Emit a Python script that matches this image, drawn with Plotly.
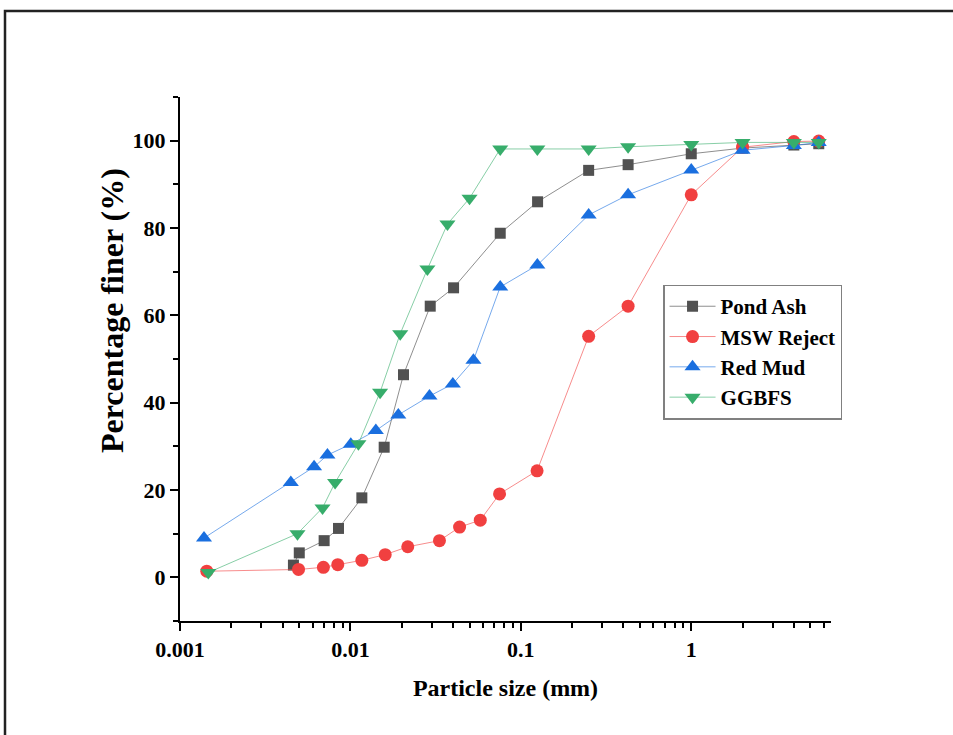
import plotly.graph_objects as go

# ---- data ----
pond_x = [0.00463, 0.00501, 0.00701, 0.00851, 0.01167, 0.01578, 0.02048, 0.0294, 0.0403,
          0.0757, 0.1254, 0.250, 0.426, 1.0, 2.0, 4.0, 5.6]
pond_y = [2.8, 5.6, 8.4, 11.2, 18.2, 29.8, 46.4, 62.1, 66.3,
          78.8, 86.0, 93.2, 94.5, 97.0, 98.3, 99.0, 99.3]

msw_x = [0.001436, 0.00496, 0.00694, 0.00843, 0.01167, 0.0160, 0.0217, 0.0333, 0.0437,
         0.0578, 0.0750, 0.1245, 0.250, 0.426, 1.0, 2.0, 4.0, 5.6]
msw_y = [1.4, 1.8, 2.3, 2.9, 3.9, 5.2, 7.0, 8.4, 11.5,
         13.1, 19.1, 24.4, 55.2, 62.1, 87.6, 98.5, 99.8, 99.9]

rm_x = [0.001383, 0.00447, 0.00612, 0.00733, 0.01005, 0.0141, 0.0191, 0.0291, 0.0399,
        0.0527, 0.0757, 0.125, 0.250, 0.426, 1.0, 2.0, 4.0, 5.6]
rm_y = [9.0, 21.7, 25.3, 28.0, 30.5, 33.6, 37.2, 41.5, 44.3,
        49.7, 66.5, 71.5, 83.0, 87.6, 93.3, 97.8, 98.9, 99.6]

gg_x = [0.001466, 0.00489, 0.00686, 0.00813, 0.01114, 0.01493, 0.0196, 0.0283, 0.0371,
        0.0500, 0.0757, 0.125, 0.250, 0.426, 1.0, 2.0, 4.0, 5.6]
gg_y = [1.1, 10.0, 15.9, 21.7, 30.6, 42.4, 55.8, 70.6, 80.9,
        86.8, 98.1, 98.1, 98.1, 98.6, 99.1, 99.6, 99.6, 99.6]

x_tick_vals = [0.001, 0.01, 0.1, 1]
x_tick_text = ["0.001", "0.01", "0.1", "1"]
series_names = ["Pond Ash", "MSW Reject", "Red Mud", "GGBFS"]
x_title = "Particle size (mm)"
y_title = "Percentage finer (%)"

FONT = "Liberation Serif"

fig = go.Figure()

def add(xs, ys, name, mcolor, lcolor, symbol, size):
    fig.add_trace(go.Scatter(
        x=xs, y=ys, name=name, mode="lines+markers",
        line=dict(color=lcolor, width=1),
        marker=dict(color=mcolor, symbol=symbol, size=size, line=dict(width=0)),
    ))

add(pond_x, pond_y, series_names[0], "#515151", "rgba(81,81,81,0.65)", "square", 11)
add(msw_x, msw_y, series_names[1], "#F14040", "rgba(241,64,64,0.6)", "circle", 13)
add(rm_x, rm_y, series_names[2], "#1A6FDF", "rgba(26,111,223,0.6)", "triangle-up", 14)
add(gg_x, gg_y, series_names[3], "#37AD6B", "rgba(55,173,107,0.6)", "triangle-down", 14)

minor_x = []
for d in [0.001, 0.01, 0.1, 1]:
    for k in range(2, 10):
        minor_x.append(d * k)

fig.update_layout(
    width=953, height=735,
    margin=dict(l=180, r=122, t=97, b=114),
    paper_bgcolor="white", plot_bgcolor="white",
    font=dict(family=FONT, size=22, color="black", weight="bold"),
    showlegend=True,
    legend=dict(
        x=0.742, y=0.642, xanchor="left", yanchor="top",
        bordercolor="#808080", borderwidth=1.5, bgcolor="white",
        font=dict(family=FONT, size=21, color="black", weight="bold"),
        tracegroupgap=0, itemsizing="trace", itemwidth=46,
    ),
    xaxis=dict(
        type="log", range=[-3, 0.82],
        tickmode="array", tickvals=x_tick_vals, ticktext=x_tick_text,
        ticks="outside", ticklen=8, tickwidth=1.5, tickcolor="black",
        showline=True, linecolor="black", linewidth=2,
        showgrid=False, zeroline=False, mirror=False,
        minor=dict(tickmode="array", tickvals=minor_x, ticks="outside",
                   ticklen=5, tickwidth=1.5, tickcolor="black", showgrid=False),
        title=dict(text=x_title, font=dict(family=FONT, size=24, weight="bold"),
                   standoff=18),
        tickfont=dict(family=FONT, size=22, weight="bold"),
    ),
    yaxis=dict(
        range=[-10, 110], tick0=0, dtick=20,
        ticks="outside", ticklen=8, tickwidth=1.5, tickcolor="black",
        showline=True, linecolor="black", linewidth=2,
        showgrid=False, zeroline=False, mirror=False,
        minor=dict(dtick=10, ticks="outside", ticklen=5, tickwidth=1.5,
                   tickcolor="black", showgrid=False),
        tickfont=dict(family=FONT, size=22, weight="bold"),
    ),
)

# y-axis title (placed like in the reference, slightly above centre)
fig.add_annotation(
    text=y_title, textangle=-90, showarrow=False,
    xref="paper", yref="paper",
    x=(112 - 180) / 651, y=(621 - 311) / 524,
    xanchor="center", yanchor="middle",
    font=dict(family=FONT, size=32, color="black", weight="bold"),
)

# outer frame of the original image
fig.add_shape(type="rect", xref="paper", yref="paper",
              x0=(5 - 180) / 651, x1=(1000 - 180) / 651,
              y0=(621 - 800) / 524, y1=(621 - 11) / 524,
              line=dict(color="#222222", width=2.5), fillcolor="rgba(0,0,0,0)", layer="below")

fig.write_html("out.html")
